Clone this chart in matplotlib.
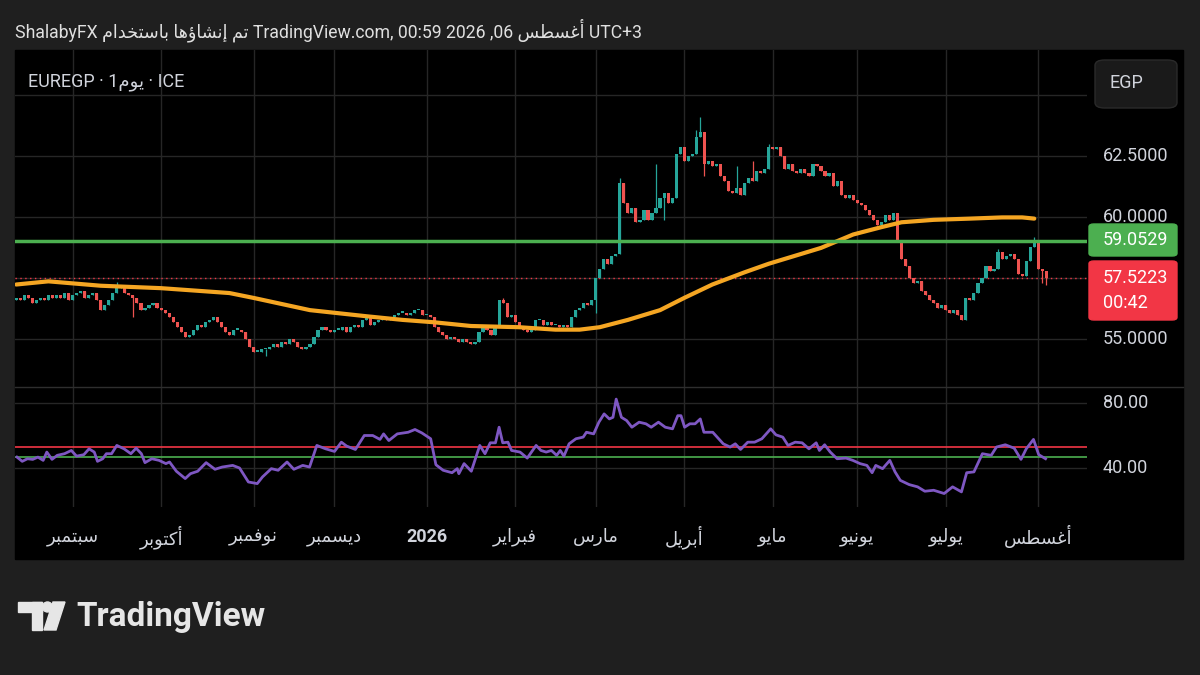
import numpy as np
import pandas as pd
import matplotlib
matplotlib.use("Agg")
import matplotlib.pyplot as plt
from matplotlib.patches import Rectangle, FancyBboxPatch, Ellipse, Polygon
from matplotlib.lines import Line2D
from matplotlib.transforms import blended_transform_factory

plt.rcParams['font.family'] = ['Roboto', 'DejaVu Sans']

# ---- data (daily EUR/EGP, ICE) ----
start_date = "2025-08-12"
first_open = 56.6
closes = [
    56.7, 56.6, 56.8, 56.7, 56.5, 56.6, 56.7, 56.6, 56.8, 56.7,
    56.8, 56.7, 56.9, 56.6, 56.8, 56.9, 57.0, 56.7, 56.8, 56.9,
    56.6, 56.2, 56.4, 56.6, 56.9, 57.1, 57.2, 56.9, 56.8, 56.7,
    56.5, 56.2, 56.3, 56.4, 56.5, 56.3, 56.2, 56.1, 55.9, 55.7,
    55.5, 55.3, 55.1, 55.2, 55.4, 55.6, 55.5, 55.7, 55.8, 55.9,
    55.7, 55.5, 55.3, 55.2, 55.4, 55.4, 55.3, 55.0, 54.7, 54.5,
    54.5, 54.6, 54.6, 54.7, 54.8, 54.7, 54.9, 54.8, 55.0, 54.9,
    54.7, 54.6, 54.7, 54.8, 55.1, 55.4, 55.5, 55.4, 55.3, 55.4,
    55.4, 55.5, 55.3, 55.5, 55.6, 55.5, 55.8, 55.9, 55.6, 55.7,
    55.8, 55.9, 55.8, 55.9, 56.0, 56.1, 56.1, 56.0, 56.1, 56.2,
    56.2, 56.0, 56.0, 55.9, 55.5, 55.3, 55.2, 55.0, 55.1, 55.0,
    54.9, 55.0, 54.9, 54.8, 54.9, 55.3, 55.6, 55.4, 55.2, 55.6,
    56.6, 56.5, 55.9, 56.0, 55.7, 55.5, 55.4, 55.3, 55.4, 55.8,
    55.8, 55.6, 55.7, 55.6, 55.6, 55.5, 55.6, 55.5, 55.9, 56.2,
    56.3, 56.5, 56.4, 56.6, 57.5, 57.9, 58.3, 58.1, 58.4, 58.5,
    61.4, 60.6, 60.2, 60.4, 59.8, 59.9, 60.3, 59.9, 60.2, 60.4,
    60.8, 61.0, 60.6, 60.8, 62.6, 62.9, 62.3, 62.5, 62.6, 63.3,
    63.5, 62.2, 62.3, 62.1, 62.2, 61.7, 61.5, 61.1, 61.0, 61.2,
    60.9, 61.4, 61.6, 61.5, 61.9, 61.8, 62.0, 62.9, 62.8, 62.9,
    62.5, 62.0, 62.2, 61.9, 61.8, 62.0, 61.8, 61.7, 62.2, 62.1,
    61.9, 61.7, 61.8, 61.3, 61.5, 60.9, 60.8, 60.9, 60.7, 60.6,
    60.5, 60.3, 60.1, 59.9, 59.7, 59.8, 60.1, 59.9, 60.2, 59.0,
    58.3, 58.0, 57.5, 57.3, 57.4, 57.0, 56.8, 56.6, 56.5, 56.3,
    56.4, 56.2, 56.1, 56.2, 56.0, 55.8, 56.7, 56.6, 56.9, 57.3,
    57.5, 58.0, 57.8, 57.9, 58.6, 58.3, 58.4, 58.5, 58.3, 57.7,
    57.6, 58.2, 58.8, 59.0, 57.9, 57.8, 57.5223,
]
# visible long wicks only
wick_high = {25: 57.35, 121: 56.7, 150: 61.6, 159: 62.2, 169: 63.6, 170: 64.1,
             179: 62.1, 183: 62.3, 187: 63.0, 219: 60.1, 244: 58.7, 253: 59.2}
wick_low = {29: 55.9, 62: 54.3, 144: 56.1, 161: 59.9, 171: 61.7, 255: 57.3, 256: 57.25}

# moving average (orange), read at these bars
ma_x = [0, 8, 21, 36, 53, 59, 73, 87, 96, 104, 113, 125, 134, 140, 145, 152, 160,
        166, 173, 181, 187, 193, 200, 208, 215, 220, 228, 237, 245, 250, 253]
ma_y = [57.25, 57.38, 57.2, 57.1, 56.9, 56.7, 56.2, 55.95, 55.8, 55.7, 55.55, 55.5,
        55.4, 55.4, 55.5, 55.8, 56.2, 56.7, 57.25, 57.75, 58.1, 58.4, 58.75, 59.3,
        59.6, 59.8, 59.9, 59.95, 60.0, 60.0, 59.95]

level_line = 59.0529
last_price = 57.5223

# RSI pane
rsi_x = [0.2, 1.5, 2.8, 4.1, 5.4, 6.7, 7.6, 8.9, 10.2, 12.0,
         13.7, 15.0, 16.8, 18.1, 19.4, 20.2, 21.5, 22.4, 23.7, 25.0,
         26.8, 28.5, 29.8, 31.1, 32.0, 33.7, 35.5, 37.2, 38.1, 39.8,
         42.0, 43.3, 45.1, 47.2, 49.4, 51.2, 53.8, 55.5, 57.7, 59.9,
         61.2, 63.4, 65.1, 67.3, 69.0, 71.2, 72.9, 74.7, 76.9, 79.1,
         80.8, 82.1, 84.3, 86.5, 88.6, 90.4, 91.3, 92.6, 94.7, 97.4,
         99.1, 100.8, 103.0, 104.3, 106.1, 108.3, 109.6, 110.0, 111.3, 113.1,
         115.2, 116.5, 117.8, 119.1, 120.0, 120.9, 122.2, 123.1, 125.2, 127.0,
         129.2,
         130.4, 131.7, 133.0, 134.3, 135.2, 136.1, 137.4, 139.1, 140.9, 141.7,
         143.5, 144.8, 146.1, 147.4, 148.3, 149.1, 150.4, 151.7, 153.0, 154.8,
         156.5, 157.8, 159.6, 161.3, 163.1, 164.4, 165.2, 166.1, 167.4, 168.7,
         170.0, 170.9, 173.1, 175.7, 177.4, 178.7, 180.0, 181.8, 183.5, 185.3,
         187.5, 188.8, 190.5, 191.8, 193.6, 195.3, 197.0, 198.8, 199.6, 200.9,
         202.3, 204.0, 206.2, 207.9, 209.7, 211.4, 212.7, 213.6, 215.3, 217.1,
         218.4, 219.7, 221.9, 224.0, 225.8, 228.0, 230.6, 232.7, 234.9, 236.2,
         238.0, 240.1, 242.3, 243.6, 245.8, 248.0, 249.7, 251.0, 252.8, 254.1,
         255.8]
rsi_y = [46.7, 44.1, 45.7, 45.3, 46.7, 44.7, 49.8, 45.3, 47.8, 48.8,
         50.8, 47.3, 48.2, 51.8, 49.8, 44.1, 45.7, 48.8, 48.8, 53.9,
         51.8, 48.8, 52.2, 48.8, 43.3, 45.7, 44.7, 42.7, 43.7, 38.0,
         33.5, 36.5, 38.0, 43.3, 39.2, 40.6, 41.6, 40.0, 31.4, 30.4,
         34.5, 39.6, 38.6, 43.7, 39.2, 41.6, 40.6, 53.9, 51.8, 50.2,
         55.9, 53.5, 51.4, 60.0, 60.0, 57.6, 61.0, 56.9, 61.0, 62.0,
         63.7, 61.6, 58.0, 42.0, 38.6, 37.1, 39.6, 36.5, 42.7, 38.0,
         53.9, 48.8, 55.5, 55.5, 65.1, 55.5, 55.9, 50.8, 49.8, 46.1,
         53.9,
         50.8, 49.8, 50.8, 47.8, 50.8, 47.3, 54.9, 58.0, 59.0, 62.0,
         61.0, 68.2, 73.3, 70.2, 71.2, 82.4, 71.2, 69.2, 65.1, 68.2,
         67.2, 65.1, 68.2, 65.1, 64.1, 72.2, 72.2, 65.1, 67.2, 67.2,
         70.2, 62.0, 62.0, 54.9, 52.9, 54.9, 51.4, 55.9, 55.9, 58.0,
         64.1, 60.4, 59.0, 53.9, 55.9, 55.5, 51.8, 55.5, 50.8, 54.3,
         49.8, 45.7, 46.1, 44.7, 42.7, 41.6, 37.1, 41.6, 39.6, 44.7,
         37.6, 32.4, 29.8, 28.4, 25.7, 26.3, 24.3, 28.4, 25.3, 37.1,
         37.6, 48.8, 47.8, 52.9, 54.3, 52.2, 45.3, 51.8, 57.6, 48.2,
         45.7]
rsi_upper = 52.9
rsi_lower = 46.8

price_ticks = [62.5, 60.0, 55.0]
price_grid = [55.0, 57.5, 60.0, 62.5, 65.0]
rsi_ticks = [80, 40]

months_ar = {9: "سبتمبر", 10: "أكتوبر", 11: "نوفمبر", 12: "ديسمبر", 2: "فبراير",
             3: "مارس", 4: "أبريل", 5: "مايو", 6: "يونيو", 7: "يوليو", 8: "أغسطس"}

# ---- crude Arabic shaping (matplotlib has no RTL / joining support) ----
FORMS = {
    'ا': ('\ufe8d', '\ufe8e', None, None), 'أ': ('\ufe83', '\ufe84', None, None),
    'إ': ('\ufe87', '\ufe88', None, None), 'ؤ': ('\ufe85', '\ufe86', None, None),
    'ب': ('\ufe8f', '\ufe90', '\ufe91', '\ufe92'), 'ت': ('\ufe95', '\ufe96', '\ufe97', '\ufe98'),
    'خ': ('\ufea5', '\ufea6', '\ufea7', '\ufea8'), 'د': ('\ufea9', '\ufeaa', None, None),
    'ر': ('\ufead', '\ufeae', None, None), 'س': ('\ufeb1', '\ufeb2', '\ufeb3', '\ufeb4'),
    'ش': ('\ufeb5', '\ufeb6', '\ufeb7', '\ufeb8'), 'ط': ('\ufec1', '\ufec2', '\ufec3', '\ufec4'),
    'غ': ('\ufecd', '\ufece', '\ufecf', '\ufed0'), 'ف': ('\ufed1', '\ufed2', '\ufed3', '\ufed4'),
    'ك': ('\ufed9', '\ufeda', '\ufedb', '\ufedc'), 'ل': ('\ufedd', '\ufede', '\ufedf', '\ufee0'),
    'م': ('\ufee1', '\ufee2', '\ufee3', '\ufee4'), 'ن': ('\ufee5', '\ufee6', '\ufee7', '\ufee8'),
    'ه': ('\ufee9', '\ufeea', '\ufeeb', '\ufeec'), 'و': ('\ufeed', '\ufeee', None, None),
    'ي': ('\ufef1', '\ufef2', '\ufef3', '\ufef4'),
}


def ar(s):
    out = []
    for i, ch in enumerate(s):
        if ch not in FORMS:
            out.append(ch)
            continue
        prev = s[i - 1] if i > 0 else ''
        nxt = s[i + 1] if i + 1 < len(s) else ''
        jp = prev in FORMS and FORMS[prev][2] is not None
        jn = nxt in FORMS and FORMS[ch][2] is not None
        iso, fin, ini, med = FORMS[ch]
        out.append(med if (jp and jn) else fin if jp else ini if jn else iso)
    return ''.join(reversed(out))


# ---- layout helpers (pixel -> figure fraction) ----
W, H = 1200, 675


def fx(x):
    return x / W


def fy(y):
    return 1 - y / H


BG = '#1f1f1f'
TXT = '#d1d4dc'
GRID = '#262626'
UP, DOWN = '#26a69a', '#ef5350'

fig = plt.figure(figsize=(12, 6.75), dpi=100, facecolor=BG)
fig.add_artist(Rectangle((fx(15), fy(559)), fx(1183) - fx(15), fy(50) - fy(559),
                         transform=fig.transFigure, color='#000000', zorder=0))

ax = fig.add_axes([fx(15), fy(387), fx(1087) - fx(15), fy(50) - fy(387)])
axr = fig.add_axes([fx(15), fy(507), fx(1087) - fx(15), fy(387) - fy(507)], sharex=ax)
for a in (ax, axr):
    a.set_facecolor('none')
    for s in a.spines.values():
        s.set_visible(False)
    a.tick_params(left=False, bottom=False, labelleft=False, labelbottom=False)

n = len(closes)
x = np.arange(n)
dates = pd.bdate_range(start_date, periods=n)
c = np.array(closes)
o = np.r_[first_open, c[:-1]]
hi = np.maximum(o, c)
lo = np.minimum(o, c)
for k, v in wick_high.items():
    hi[k] = max(hi[k], v)
for k, v in wick_low.items():
    lo[k] = min(lo[k], v)
cols = np.where(c >= o, UP, DOWN)

ax.set_xlim(-0.3, 266.1)
ax.set_ylim(53.05, 66.86)
axr.set_ylim(16.0, 89.85)

# month grid lines
mstarts = [i for i in range(1, n) if dates[i].month != dates[i - 1].month]
for m in mstarts:
    ax.axvline(m, color=GRID, lw=1, zorder=1)
    axr.axvline(m, color=GRID, lw=1, zorder=1)
for g in price_grid:
    ax.axhline(g, color=GRID, lw=1, zorder=1)
for g in rsi_ticks:
    axr.axhline(g, color=GRID, lw=1, zorder=1)

# candles
ax.vlines(x, lo, hi, colors=cols, lw=0.9, zorder=3)
body = np.maximum(np.abs(c - o), 0.05)
ax.bar(x, body, bottom=np.minimum(o, c), width=0.78, color=cols, zorder=3)

ax.plot(ma_x, ma_y, color='#f5a623', lw=3, solid_capstyle='round', zorder=4)
ax.axhline(level_line, color='#4caf50', lw=2.5, zorder=4)
ax.axhline(last_price, color='#f23645', lw=1, ls=(0, (1, 2.5)), zorder=2)

# RSI
axr.axhline(rsi_upper, color='#f23645', lw=1.2, zorder=2)
axr.axhline(rsi_lower, color='#4caf50', lw=1.2, zorder=2)
axr.plot(rsi_x, rsi_y, color='#7e57c2', lw=2, zorder=3)

fig.add_artist(Line2D([fx(15), fx(1183)], [fy(387), fy(387)], transform=fig.transFigure,
                      color='#2e2e2e', lw=1))

# right price scale
ty = ax.get_yaxis_transform()
lx = (1103 - 15) / (1087 - 15)
for t in price_ticks:
    ax.text(lx, t, f"{t:.4f}", transform=ty, color=TXT, fontsize=13, va='center',
            ha='left', clip_on=False)
tyr = axr.get_yaxis_transform()
for t in rsi_ticks:
    axr.text(lx, t, f"{t:.2f}", transform=tyr, color=TXT, fontsize=13, va='center',
             ha='left', clip_on=False)

fig.add_artist(FancyBboxPatch((fx(1089), fy(256)), fx(1177) - fx(1089), fy(224) - fy(256),
                              boxstyle="round,pad=0,rounding_size=0.004",
                              transform=fig.transFigure, color='#4caf50'))
fig.text(fx(1103), fy(240), f"{level_line:.4f}", color='white', fontsize=13, va='center')
fig.add_artist(FancyBboxPatch((fx(1089), fy(320)), fx(1177) - fx(1089), fy(261) - fy(320),
                              boxstyle="round,pad=0,rounding_size=0.004",
                              transform=fig.transFigure, color='#f23645'))
fig.text(fx(1103), fy(278), f"{last_price:.4f}", color='white', fontsize=13, va='center')
fig.text(fx(1103), fy(303), "00:42", color='white', fontsize=13, va='center')

fig.add_artist(FancyBboxPatch((fx(1095), fy(108)), fx(1177) - fx(1095), fy(60) - fy(108),
                              boxstyle="round,pad=0,rounding_size=0.008",
                              transform=fig.transFigure, facecolor='#1a1a1a',
                              edgecolor='#2a2a2a', lw=1))
fig.text(fx(1126), fy(83), "EGP", color=TXT, fontsize=13, va='center', ha='center')

# time axis
tt = blended_transform_factory(axr.transData, fig.transFigure)
for m in mstarts:
    d = dates[m]
    if d.month == 1:
        axr.text(m, fy(537), str(d.year), transform=tt, color=TXT, fontsize=13,
                 fontweight='bold', ha='center', va='center', clip_on=False)
    else:
        axr.text(m, fy(537), ar(months_ar[d.month]), transform=tt, color=TXT,
                 fontsize=13, ha='center', va='center', clip_on=False)

# titles
fig.text(fx(15), fy(30), "ShalabyFX " + ar("تم إنشاؤها باستخدام") +
         " TradingView.com, 00:59 2026 ,06 " + ar("أغسطس") + " UTC+3",
         color='#e0e0e0', fontsize=12.7, va='center', ha='left')
fig.text(fx(28), fy(82), "EUREGP · 1" + ar("يوم") + " · ICE", color=TXT,
         fontsize=13, va='center', ha='left')

# TradingView logo
LOGO = '#e6e6e6'
fig.add_artist(Rectangle((fx(18), fy(612)), fx(42) - fx(18), fy(602) - fy(612),
                         transform=fig.transFigure, color=LOGO))
fig.add_artist(Rectangle((fx(32), fy(630)), fx(42) - fx(32), fy(602) - fy(630),
                         transform=fig.transFigure, color=LOGO))
fig.add_artist(Ellipse((fx(47.5), fy(607)), fx(10), 10 / H, transform=fig.transFigure,
                       color=LOGO))
fig.add_artist(Polygon([(fx(53), fy(602)), (fx(65), fy(602)), (fx(56), fy(630)),
                        (fx(44), fy(630))], closed=True, transform=fig.transFigure,
                       color=LOGO))
fig.text(fx(76), fy(617), "TradingView", color=LOGO, fontsize=24, fontweight='bold',
         va='center', ha='left')

fig.savefig("out.png", dpi=100, facecolor=BG)
